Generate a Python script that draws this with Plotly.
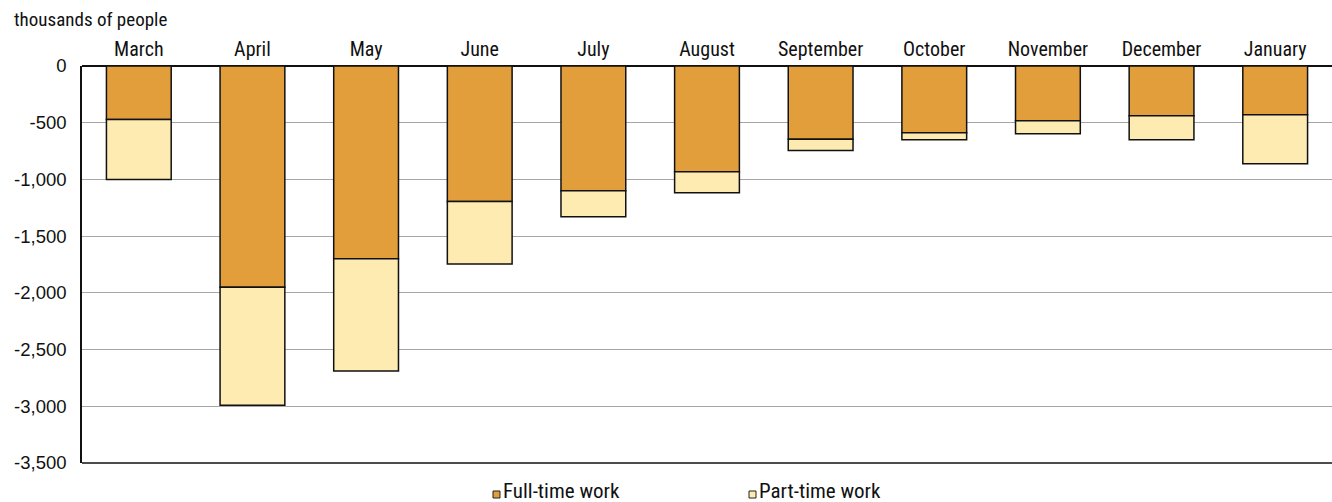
import plotly.graph_objects as go

# Monthly change in employment, thousands of people
months = ["March", "April", "May", "June", "July", "August", "September",
          "October", "November", "December", "January"]
full_time = [-472, -1950, -1700, -1195, -1100, -932, -645, -589, -482, -438, -430]
part_time = [-528, -1040, -990, -550, -230, -185, -100, -61, -115, -212, -432]

y_tickvals = [0, -500, -1000, -1500, -2000, -2500, -3000, -3500]
y_ticktext = ["0", "-500", "-1,000", "-1,500", "-2,000", "-2,500", "-3,000", "-3,500"]

FULL_COLOR = "#E39E3C"
PART_COLOR = "#FDEBB1"
NARROW = "Roboto Condensed, Liberation Sans Narrow, sans-serif"
REGULAR = "Liberation Sans, Arial, sans-serif"

W, H = 1332, 502
L, R, T, B = 82, 0, 66, 39
plot_w = W - L - R
plot_h = H - T - B

fig = go.Figure()
fig.add_trace(go.Bar(
    x=months, y=full_time, name="Full-time work",
    marker=dict(color=FULL_COLOR, line=dict(color="#111111", width=1.5)),
))
fig.add_trace(go.Bar(
    x=months, y=part_time, name="Part-time work",
    marker=dict(color=PART_COLOR, line=dict(color="#111111", width=1.5)),
))

fig.update_layout(
    width=W, height=H,
    margin=dict(l=L, r=R, t=T, b=B, pad=0),
    barmode="relative",
    bargap=0.43,
    plot_bgcolor="white",
    paper_bgcolor="white",
    showlegend=False,
    font=dict(family=NARROW, size=19, color="#111111"),
)

fig.update_xaxes(
    side="top",
    showgrid=False,
    showline=False,
    ticks="outside", ticklen=1, tickcolor="rgba(0,0,0,0)",
    tickfont=dict(family=NARROW, size=20, color="#111111"),
)
fig.update_yaxes(
    range=[-3500, 0],
    tickvals=y_tickvals, ticktext=y_ticktext,
    showgrid=True, gridcolor="#A6A6A6", gridwidth=1.2,
    zeroline=True, zerolinecolor="#111111", zerolinewidth=1.5,
    showline=True, linecolor="#111111", linewidth=1.5, mirror=False,
    ticks="outside", ticklen=10, tickcolor="rgba(0,0,0,0)",
    tickfont=dict(family=REGULAR, size=18.5, color="#111111"),
)

# Bottom frame line at the axis minimum
fig.add_shape(type="line", xref="paper", yref="paper", x0=0, x1=1, y0=0, y1=0,
              line=dict(color="#111111", width=1.5))


def px_x(px):
    return (px - L) / plot_w


def px_y(py):
    return (H - B - py) / plot_h


# Axis unit caption
fig.add_annotation(text="thousands of people", xref="paper", yref="paper",
                   x=px_x(12), y=px_y(19.5),
                   xanchor="left", yanchor="middle", showarrow=False,
                   font=dict(family=NARROW, size=19, color="#111111"))

# Legend drawn as small outlined squares with labels
legend_items = [("Full-time work", FULL_COLOR, 493), ("Part-time work", PART_COLOR, 749)]
for label, color, x0 in legend_items:
    fig.add_shape(type="rect", xref="paper", yref="paper",
                  x0=px_x(x0), x1=px_x(x0 + 7), y0=px_y(498), y1=px_y(491),
                  fillcolor=color, line=dict(color="#222222", width=1))
    fig.add_annotation(text=label, xref="paper", yref="paper",
                       x=px_x(x0 + 8), y=px_y(491), xanchor="left", yanchor="middle",
                       showarrow=False,
                       font=dict(family=NARROW, size=21, color="#111111"))

fig.write_html("out.html")
